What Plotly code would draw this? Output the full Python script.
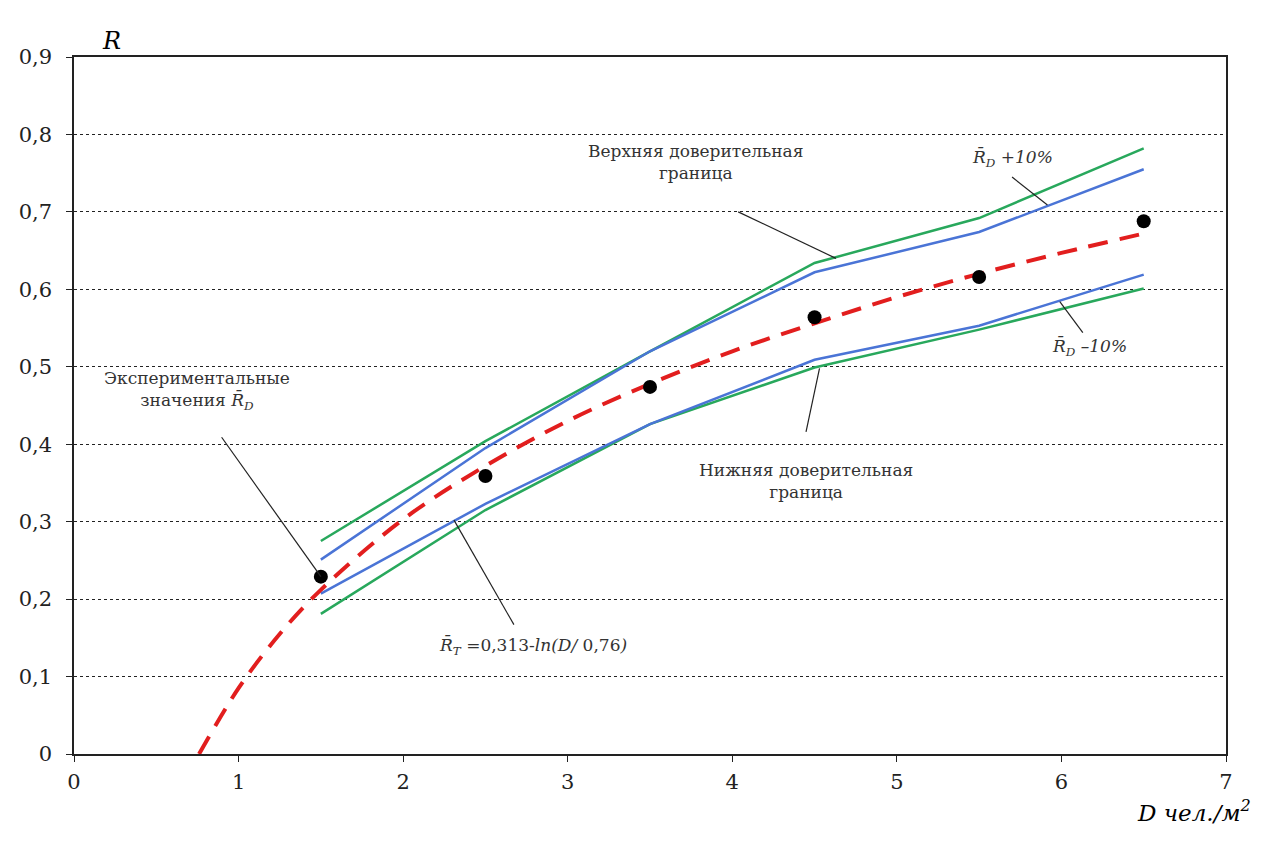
import plotly.graph_objects as go

# ---- data ----
D_pts = [1.5, 2.5, 3.5, 4.5, 5.5, 6.5]
R_exp = [0.229, 0.359, 0.474, 0.564, 0.616, 0.688]

upper_conf = [0.275, 0.404, 0.520, 0.634, 0.692, 0.782]
upper_10 = [0.251, 0.395, 0.520, 0.622, 0.674, 0.755]
lower_10 = [0.207, 0.323, 0.426, 0.509, 0.553, 0.619]
lower_conf = [0.181, 0.315, 0.426, 0.499, 0.548, 0.601]

D_curve = [0.76, 1.0, 1.25, 1.5, 2.0, 2.5, 3.0, 3.5, 4.0, 4.5, 5.0, 5.5, 6.0, 6.5]
R_curve = [0.0, 0.085, 0.155, 0.212, 0.303, 0.372, 0.430, 0.478, 0.520, 0.556, 0.590, 0.620, 0.647, 0.672]

x_ticks = [0, 1, 2, 3, 4, 5, 6, 7]
y_ticks = [0, 0.1, 0.2, 0.3, 0.4, 0.5, 0.6, 0.7, 0.8, 0.9]
y_tick_text = ["0", "0,1", "0,2", "0,3", "0,4", "0,5", "0,6", "0,7", "0,8", "0,9"]

GREEN = "rgb(40,168,92)"
BLUE = "rgb(74,116,214)"
RED = "rgb(226,30,30)"
SERIF = "DejaVu Serif"

fig = go.Figure()
fig.add_trace(go.Scatter(x=D_pts, y=upper_conf, mode="lines", line=dict(color=GREEN, width=2.5)))
fig.add_trace(go.Scatter(x=D_pts, y=lower_conf, mode="lines", line=dict(color=GREEN, width=2.5)))
fig.add_trace(go.Scatter(x=D_pts, y=upper_10, mode="lines", line=dict(color=BLUE, width=2.5)))
fig.add_trace(go.Scatter(x=D_pts, y=lower_10, mode="lines", line=dict(color=BLUE, width=2.5)))
fig.add_trace(go.Scatter(x=D_curve, y=R_curve, mode="lines",
                         line=dict(color=RED, width=4, dash="20px,12px", shape="spline")))
fig.add_trace(go.Scatter(x=D_pts, y=R_exp, mode="markers",
                         marker=dict(color="black", size=14)))

# leader lines (from label to target)
leaders = [
    ((0.897, 0.409), (1.5, 0.229)),
    ((2.673, 0.167), (2.309, 0.302)),
    ((4.036, 0.700), (4.63, 0.640)),
    ((5.70, 0.745), (5.915, 0.709)),
    ((6.13, 0.544), (5.99, 0.584)),
    ((4.448, 0.416), (4.53, 0.498)),
]
for (x0, y0), (x1, y1) in leaders:
    fig.add_shape(type="line", x0=x0, y0=y0, x1=x1, y1=y1, xref="x", yref="y",
                  line=dict(color="#222", width=1.2))

ann_font = dict(family=SERIF, size=17, color="#333")
texts = [
    (0.75, 0.47, "Экспериментальные<br>значения <i>R̄</i><sub><i>D</i></sub>"),
    (2.79, 0.14, "<i>R̄</i><sub><i>T</i></sub> =0,313-<i>ln(D/</i> 0,76<i>)</i>"),
    (3.775, 0.764, "Верхняя доверительная<br>граница"),
    (5.7, 0.77, "<i>R̄</i><sub><i>D</i></sub> <i>+10%</i>"),
    (6.17, 0.526, "<i>R̄</i><sub><i>D</i></sub> <i>–10%</i>"),
    (4.45, 0.352, "Нижняя доверительная<br>граница"),
]
for x, y, t in texts:
    fig.add_annotation(x=x, y=y, xref="x", yref="y", text=t, showarrow=False,
                       font=ann_font, align="center")

fig.add_annotation(xref="paper", yref="paper", x=(100 - 74) / 1152, y=1 + (57 - 25) / 697,
                   text="<i>R</i>", showarrow=False,
                   font=dict(family=SERIF, size=24, color="black"))
fig.add_annotation(xref="paper", yref="paper", x=(1253 - 74) / 1152, y=-(828 - 754) / 697,
                   xanchor="right", text="<i>D чел./м<sup>2</sup></i>", showarrow=False,
                   font=dict(family=SERIF, size=23, color="black"))

# page body adds an 8px offset; compensate so the plot area lands at 74..1226 x 57..754
fig.update_layout(
    width=1263, height=843,
    margin=dict(l=66, r=45, t=49, b=97, autoexpand=False),
    paper_bgcolor="white", plot_bgcolor="white",
    showlegend=False,
    font=dict(family=SERIF, size=21, color="#222"),
)
fig.update_xaxes(range=[0, 7], tickvals=x_ticks, showgrid=False, zeroline=False,
                 showline=True, linecolor="#222", linewidth=1.5, mirror=True,
                 ticks="outside", ticklen=6, tickcolor="#222", automargin=False,
                 ticklabelstandoff=2)
fig.update_yaxes(range=[0, 0.9], tickvals=y_ticks, ticktext=y_tick_text,
                 showgrid=True, gridcolor="#222", gridwidth=1, griddash="dot", zeroline=False,
                 showline=True, linecolor="#222", linewidth=1.5, mirror=True,
                 ticks="outside", ticklen=6, tickcolor="#222", automargin=False,
                 ticklabelstandoff=10)

fig.write_html("out.html")
